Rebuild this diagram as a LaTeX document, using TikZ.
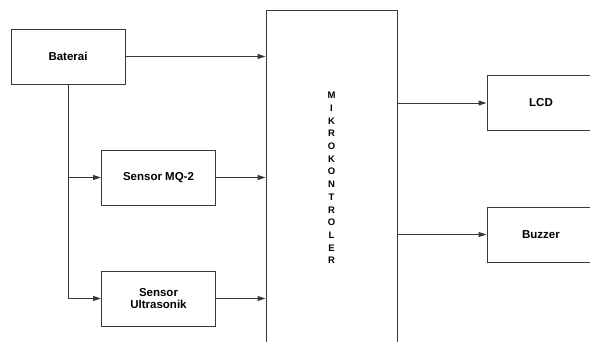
\documentclass[tikz,border=0pt]{standalone}
\usepackage{fontspec}
\setmainfont{Liberation Sans}
\usetikzlibrary{arrows.meta, positioning}
\definecolor{blockline}{HTML}{383838}

\begin{document}
\begin{tikzpicture}[x=1pt, y=-1pt,
		every node/.style={font=\fontsize{11.5}{12.5}\selectfont\bfseries},
		block/.style={draw=blockline, line width=0.9pt,
			minimum width=114pt, minimum height=55pt,
			align=center, inner sep=0pt},
		mcu/.style={block, minimum width=131pt, minimum height=336pt,
			font=\fontsize{9.5}{12.7}\selectfont\bfseries},
		arr/.style={-{Triangle[length=8pt, width=5pt]}, line width=0.9pt, blockline},
		]
		\clip (0,0) rectangle (590,341);

		% Inputs
		\node[block] (bat) at (68,56.5) {Baterai};
		\node[block] (mq) at (158.5,177.5) {Sensor MQ-2};
		\node[block] (us) at (158.5,298.5) {Sensor\\Ultrasonik};

		% Mikrokontroler
		\node[mcu] (mk) at (331.5,178)
		{M\\I\\K\\R\\O\\K\\O\\N\\T\\R\\O\\L\\E\\R};

		% Outputs
		\node[block, minimum width=108pt] (lcd) at (541,103) {LCD};
		\node[block, minimum width=108pt] (buz) at (541,234.5) {Buzzer};

		% Arrows
		\draw[arr] (bat.east) -- (bat.east -| mk.west);
		\draw[arr] (mq.east) -- (mq.east -| mk.west);
		\draw[arr] (us.east) -- (us.east -| mk.west);
		\draw[arr] (bat.south) |- (us.west);
		\draw[arr] (bat.south |- mq.west) -- (mq.west);
		\draw[arr] (mk.east |- lcd.west) -- (lcd.west);
		\draw[arr] (mk.east |- buz.west) -- (buz.west);
	\end{tikzpicture}
\end{document}
